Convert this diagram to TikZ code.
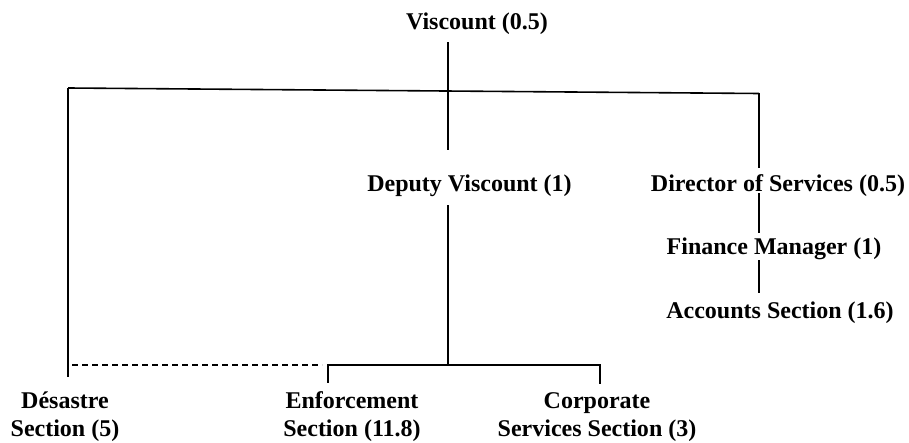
\documentclass[tikz,border=0pt]{standalone}
\usepackage{fontspec}
\setmainfont{Liberation Serif}
\usetikzlibrary{calc}
\begin{document}
\begin{tikzpicture}[x=1pt,y=-1pt,
  lbl/.style={inner sep=0pt,outer sep=0pt,anchor=base,align=center,
    font=\fontsize{24}{28}\selectfont\bfseries},
  conn/.style={line width=1.6pt},
  dconn/.style={line width=1.5pt,dash pattern=on 6pt off 4pt}]
\useasboundingbox (0,0) rectangle (909,443);
% nodes
\node[lbl] (vis) at (477,30) {Viscount (0.5)};
\node[lbl] (dep) at (469.5,192) {Deputy Viscount (1)};
\node[lbl] (dir) at (778,192) {Director of Services (0.5)};
\node[lbl] (fin) at (774,255) {Finance Manager (1)};
\node[lbl] (acc) at (780,318) {Accounts Section (1.6)};
\node[lbl] (des) at (65,436) {Désastre\\Section (5)};
\node[lbl] (enf) at (352,436) {Enforcement\\Section (11.8)};
\node[lbl] (cor) at (597,436) {Corporate\\Services Section (3)};
% junctions
\coordinate (hl) at (68,88);
\coordinate (hr) at (759,93.5);
\coordinate (hc) at (448,91);
\coordinate (bl) at (328,365);
\coordinate (bc) at (448,365);
\coordinate (br) at (600,365);
\coordinate (dl) at (68,365);
% connectors
\draw[conn] (hl) -- (hr);
\draw[conn] ($(hc |- vis.south)+(0,7)$) -- ($(hc |- dep.north)+(0,-25.5)$);
\draw[conn] (hl) -- ($(hl |- des.north)+(0,-14.5)$);
\draw[conn] (hr) -- ($(hr |- dir.north)+(0,-7.5)$);
\draw[conn] ($(hr |- dir.south)+(0,-4)$) -- ($(hr |- fin.north)+(0,-5.5)$);
\draw[conn] ($(hr |- fin.south)+(0,0)$) -- ($(hr |- acc.north)+(0,-8.5)$);
\draw[conn] ($(hc |- dep.south)+(0,8)$) -- (bc);
\draw[conn] ($(bl |- enf.north)+(0,-8.5)$) -- (bl) -- (br) -- ($(br |- cor.north)+(0,-8.5)$);
\draw[dconn] ($(dl)+(4,0)$) -- ($(bl)+(-6,0)$);
\end{tikzpicture}
\end{document}
